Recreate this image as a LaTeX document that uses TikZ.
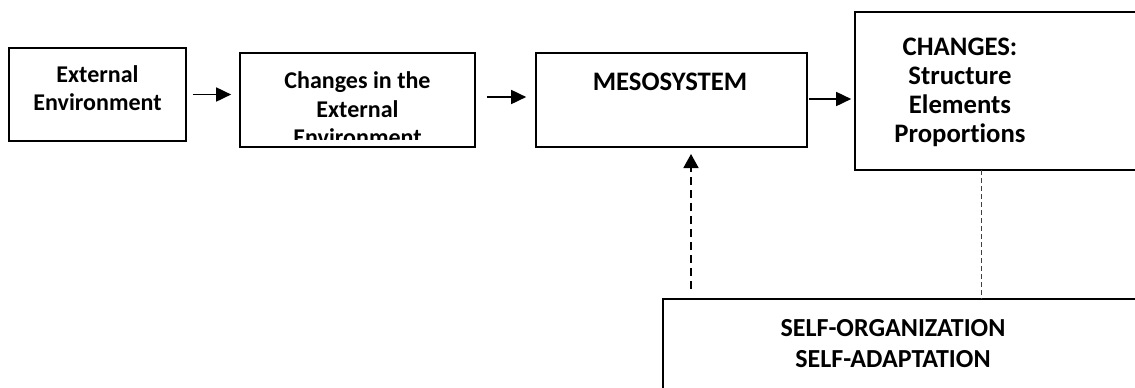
\documentclass[tikz,border=0pt]{standalone}
\usepackage{fontspec}
\setmainfont{Carlito}[Ligatures=NoCommon]
\usepackage{tikz}
\usetikzlibrary{arrows.meta, positioning, calc}
\tikzstyle{block} = [rectangle, draw=black, line width=1.4pt, inner sep=0pt]
\tikzstyle{caption} = [align=center, inner sep=0pt, font=\fontsize{20.5}{24.4}\selectfont\bfseries]
\tikzstyle{bigcaption} = [align=center, inner sep=0pt, font=\fontsize{22.8}{24.8}\selectfont\bfseries]
\tikzstyle{flow} = [line width=1.5pt, -{Triangle[length=0.45cm, width=0.42cm]}]
\tikzstyle{feedback} = [line width=1.5pt, dash pattern=on 0.24cm off 0.15cm, -{Triangle[length=0.42cm, width=0.45cm]}]
\tikzstyle{link} = [line width=0.7pt, draw=black!75, dash pattern=on 0.15cm off 0.09cm]

\begin{document}
\begin{tikzpicture}[x=0.03cm, y=-0.03cm]
\clip (0,0) rectangle (1135,388);
\fill[white] (0,0) rectangle (1135,388);

\node (env) [block, minimum width=5.31cm, minimum height=2.79cm] at (97.5,94.5) {};
\node (chg) [block, minimum width=7.05cm, minimum height=2.82cm] at (357.5,100) {};
\node (meso) [block, minimum width=8.13cm, minimum height=2.82cm] at (671.5,100) {};
\node (res) [block, minimum width=10.35cm, minimum height=4.74cm] at (1027.5,91) {};
\node (self) [block, minimum width=16.11cm, minimum height=4.23cm] at (931.5,369.5) {};

\node (envtxt) [caption] at (97.5,88) {External\\Environment};
\begin{scope}
\clip (242,55) rectangle (473,139);
\node (chgtxt) [caption] at (357.5,109) {Changes in the\\External\\Environment};
\end{scope}
\node (mesotxt) [bigcaption] at (670,82) {MESOSYSTEM};
\node (restxt) [bigcaption] at (960,92) {CHANGES:\\Structure\\Elements\\Proportions};
\node (selftxt) [bigcaption, font=\fontsize{22.2}{26.4}\selectfont\bfseries] at (893,344) {SELF-ORGANIZATION\\SELF-ADAPTATION};

\coordinate (up) at (691,154);
\coordinate (lk) at (981,170);

\draw[flow, shorten <=0.18cm, shorten >=0.24cm] (env.east) -- (env.east -| chg.west);
\draw[flow, shorten <=0.33cm, shorten >=0.27cm] ([yshift=0.09cm]chg.east) -- ([yshift=0.09cm]meso.west);
\draw[flow, shorten <=0.03cm, shorten >=0.09cm] ([yshift=0.03cm]meso.east) -- ([yshift=0.03cm]meso.east -| res.west);
\draw[feedback, shorten <=0.27cm] (self.north -| up) -- (up);
\draw[link] (lk) -- (lk |- self.north);
\end{tikzpicture}
\end{document}
